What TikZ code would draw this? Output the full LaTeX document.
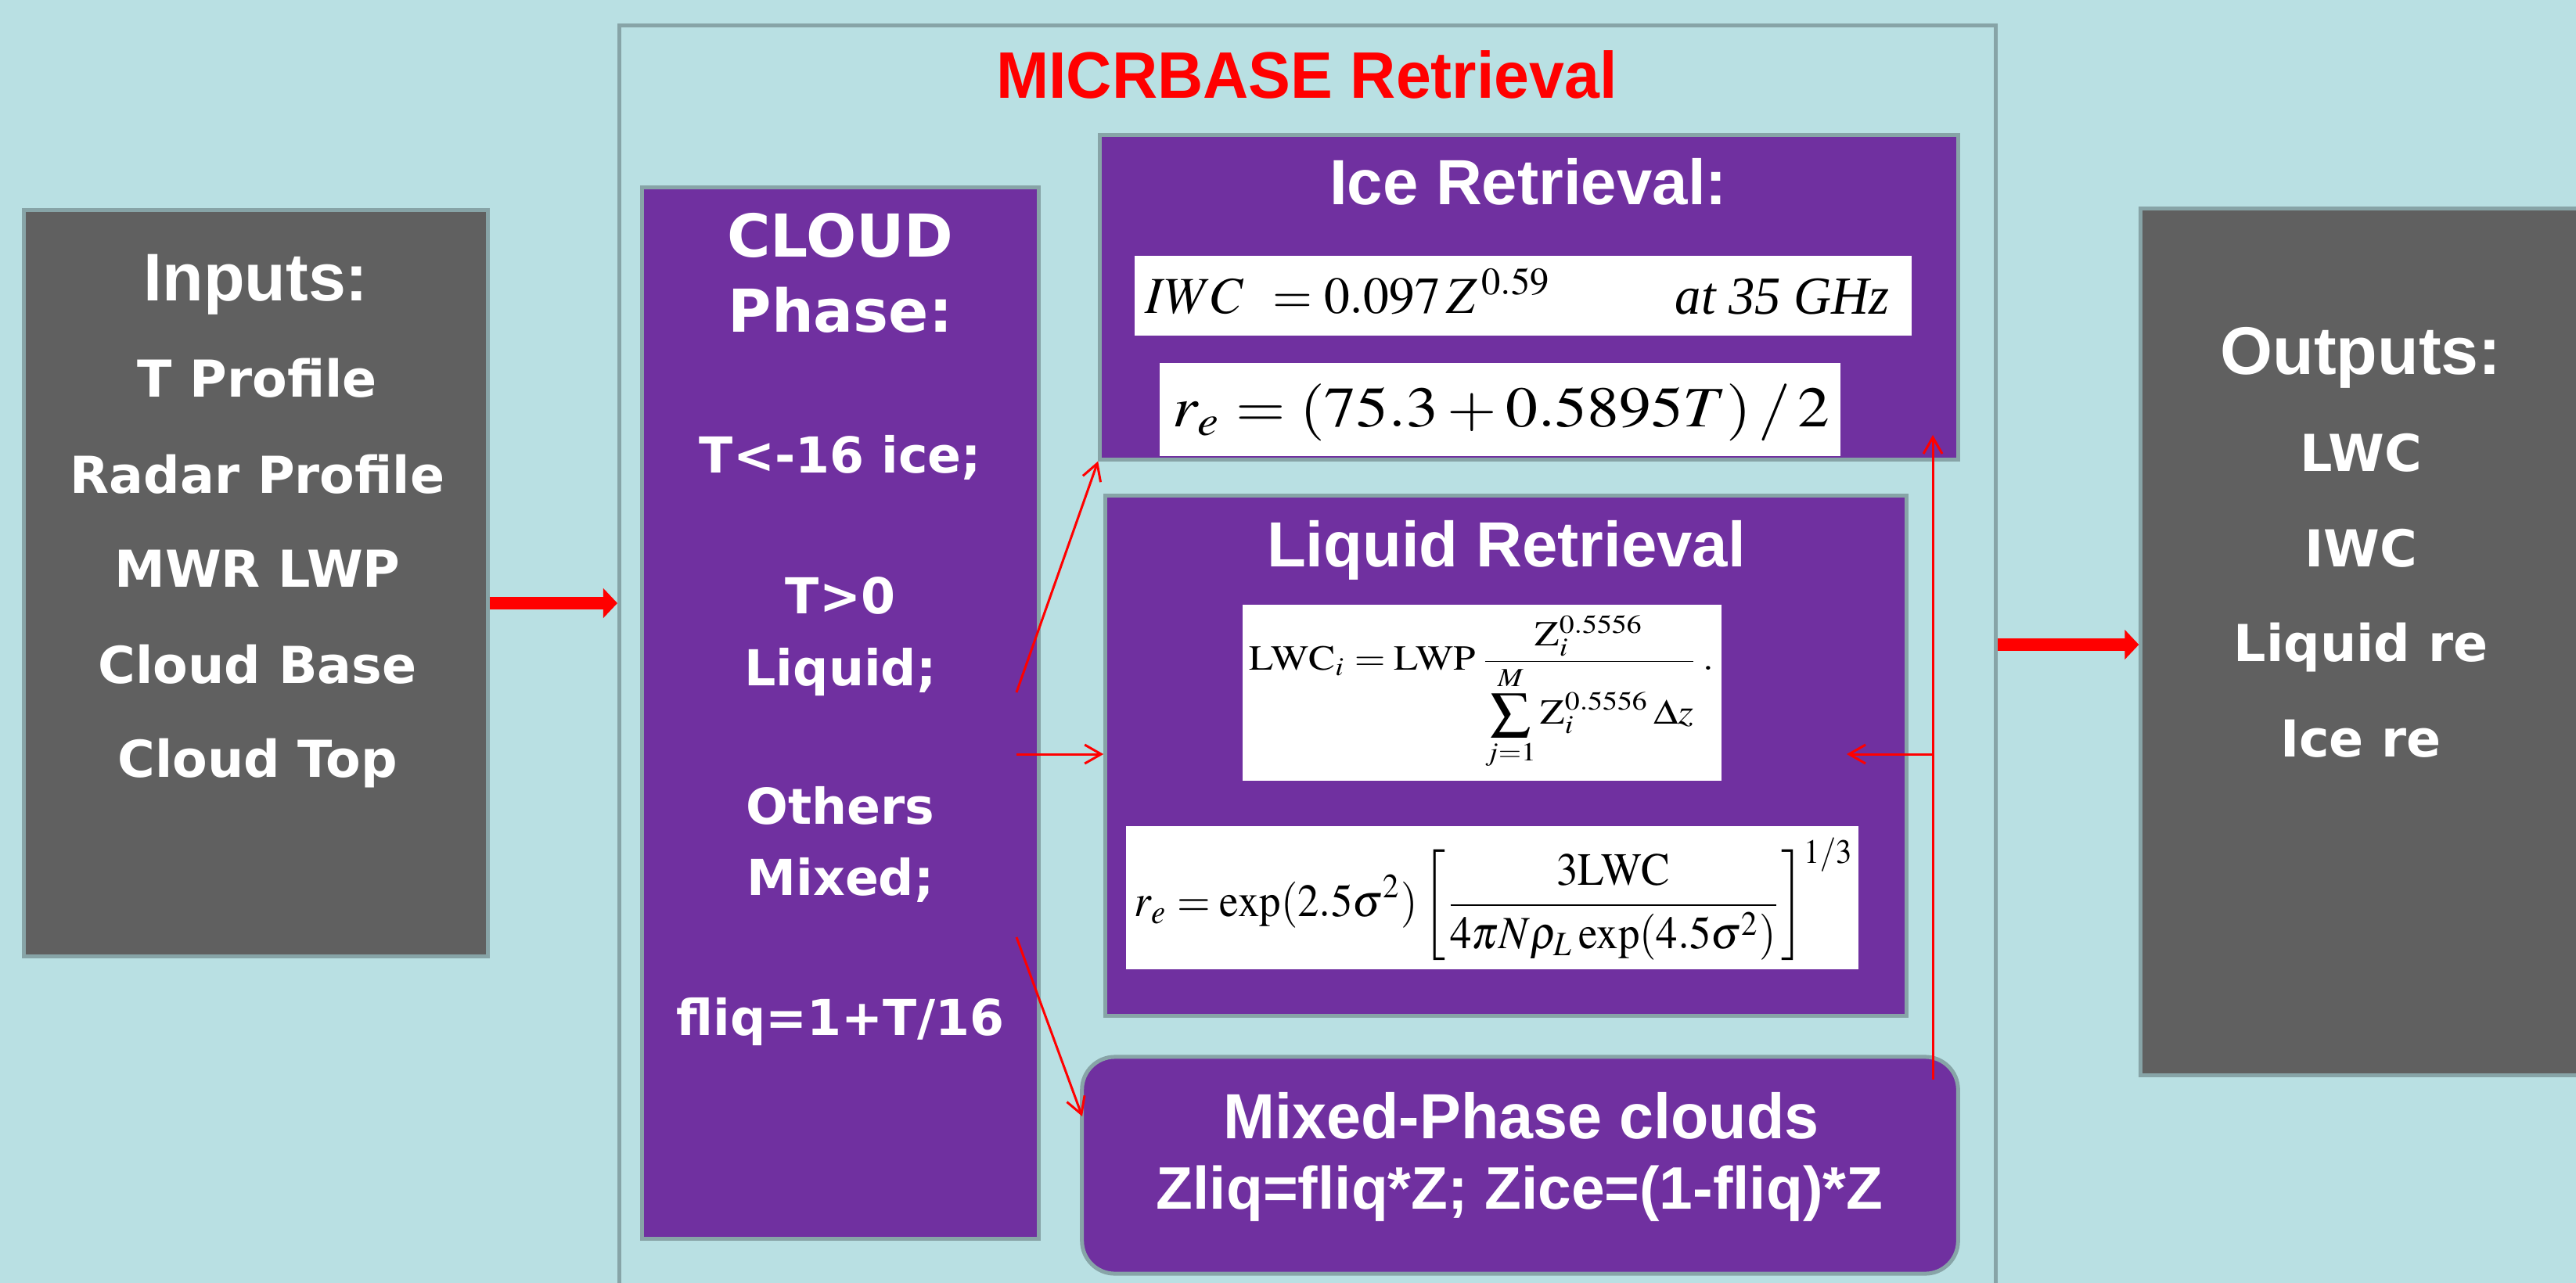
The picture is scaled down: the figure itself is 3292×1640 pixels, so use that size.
\documentclass[tikz,border=0pt]{standalone}
\usepackage{mathptmx}
\usepackage[no-math]{fontspec}
\usepackage{graphicx}
\usetikzlibrary{arrows.meta}
\newfontfamily\hfont{Liberation Sans}
\newfontfamily\hcfont{Liberation Sans}[FakeStretch=0.96]
\newfontfamily\mcfont{Liberation Sans}[FakeStretch=0.97]
\newfontfamily\vfont{DejaVu Sans}
\newfontfamily\tms{Liberation Serif}
\definecolor{bgc}{RGB}{185,224,227}
\definecolor{purp}{RGB}{112,48,160}
\definecolor{grayb}{RGB}{96,96,96}
\definecolor{bord}{RGB}{135,164,167}
\tikzset{
  box/.style={draw=bord, line width=0.05cm, inner sep=0pt},
  whitebox/.style={fill=white, inner sep=0pt},
  wt/.style={text=white, anchor=base, inner sep=0pt},
  fml/.style={anchor=north west, inner sep=0pt},
  redarr/.style={draw=red, line width=0.03cm, -{Straight Barb[length=0.21cm,width=0.24cm]}},
  bigarr/.style={draw=red, line width=0.16cm, -{Triangle[length=0.18cm,width=0.37cm]}},
  hbig/.style={font=\hfont\bfseries\fontsize{24.5}{29}\selectfont},
  vlist/.style={font=\vfont\bfseries\fontsize{18.5}{22}\selectfont},
  chead/.style={font=\vfont\bfseries\fontsize{21.5}{26}\selectfont},
  clist/.style={font=\vfont\bfseries\fontsize{18}{22}\selectfont},
  ptitle/.style={font=\hfont\bfseries\fontsize{23.2}{28}\selectfont},
}
\begin{document}
\begin{tikzpicture}[x=0.01cm,y=-0.01cm]
\useasboundingbox (0,0) rectangle (3292,1640);
\clip (0,0) rectangle (3292,1640);
\fill[bgc] (0,0) rectangle (3292,1640);

% outer retrieval frame
\node[box, minimum width=17.58cm, minimum height=17.67cm] (ret) at (1671,916.5) {};
\node[anchor=base, inner sep=0pt, text=red, font=\hcfont\bfseries\fontsize{23.9}{28}\selectfont] (retT) at (1670,126) {MICRBASE Retrieval};

% inputs
\node[box, fill=grayb, minimum width=5.92cm, minimum height=9.53cm] (inp) at (327,745.5) {};
\node[wt, hbig] (inpT) at (327,385) {Inputs:};
\foreach \t/\y [count=\i] in {T Profile/508, Radar Profile/630, MWR LWP/750, Cloud Base/873, Cloud Top/993}
  \node[wt, vlist] (inp\i) at (329,\y) {\t};

% outputs
\node[box, fill=grayb, minimum width=5.74cm, minimum height=11.07cm] (out) at (3023,820.5) {};
\node[wt, hbig] (outT) at (3017,479) {Outputs:};
\foreach \t/\y [count=\i] in {LWC/602, IWC/724, Liquid re/845, Ice re/967}
  \node[wt, vlist] (out\i) at (3017,\y) {\t};

% cloud phase
\node[box, fill=purp, minimum width=5.06cm, minimum height=13.43cm] (cloud) at (1074,911.5) {};
\node[wt, chead] (cl1) at (1074,329) {CLOUD};
\node[wt, chead] (cl2) at (1074,425) {Phase:};
\foreach \t/\y [count=\i from 3] in {T<-16 ice;/604, T>0/784, Liquid;/876, Others/1053, Mixed;/1144, {fliq=1+T/16}/1323}
  \node[wt, clist] (cl\i) at (1074,\y) {\t};

% ice retrieval
\node[box, fill=purp, minimum width=10.96cm, minimum height=4.14cm] (ice) at (1954,380) {};
\node[wt, ptitle] (iceT) at (1953,262) {Ice Retrieval:};
\node[whitebox, minimum width=9.93cm, minimum height=1.02cm] (iwcbox) at (1946.5,378) {};
\node[fml] (iwcA) at (1463,342) {\resizebox*{5.19cm}{0.59cm}{$IWC\;\,=0.097\,Z^{\,0.59}$}};
\node[fml] (iwcB) at (2140,355) {\resizebox*{2.74cm}{0.46cm}{\tms\itshape at 35 GHz}};
\node[whitebox, minimum width=8.70cm, minimum height=1.19cm] (reibox) at (1917,523.5) {};
\node[fml] (reiF) at (1498,490) {\resizebox*{8.39cm}{0.73cm}{$r_e=(75.3+0.5895T)\,/\,2$}};

% liquid retrieval
\node[box, fill=purp, minimum width=10.23cm, minimum height=6.64cm] (liq) at (1924.5,966) {};
\node[wt, ptitle] (liqT) at (1925,724) {Liquid Retrieval};
\node[whitebox, minimum width=6.12cm, minimum height=2.25cm] (lwcbox) at (1894,885.5) {};
\node[fml] (lwcF) at (1596,786) {\resizebox*{5.93cm}{1.97cm}{$\displaystyle \mathrm{LWC}_i=\mathrm{LWP}\,\frac{\mathrm{Z}_i^{0.5556}}{\displaystyle\sum_{j=1}^{M}\mathrm{Z}_i^{0.5556}\,\Delta z}\,.$}};
\node[whitebox, minimum width=9.36cm, minimum height=1.83cm] (relbox) at (1907,1147.5) {};
\node[fml] (relF) at (1449,1070) {\resizebox*{9.19cm}{1.57cm}{$\displaystyle r_e=\exp(2.5\sigma^2)\left[\frac{3\mathrm{LWC}}{4\pi N\rho_L\exp(4.5\sigma^2)}\right]^{1/3}$}};

% mixed phase
\node[box, fill=purp, rounded corners=0.42cm, minimum width=11.19cm, minimum height=2.77cm] (mix) at (1942.5,1489.5) {};
\node[wt, font=\mcfont\bfseries\fontsize{23.2}{28}\selectfont] (mixT) at (1944,1455) {Mixed-Phase clouds};
\node[wt, font=\hfont\bfseries\fontsize{21.8}{26}\selectfont] (mixF) at (1942,1545) {Zliq=fliq*Z; Zice=(1-fliq)*Z};

% connectors
\coordinate (c1) at (1299,885);
\coordinate (c2) at (1299,964);
\coordinate (c3) at (1299,1198);
\coordinate (m3) at (1383,1427);
\coordinate (fb0) at (2470,1380);
\coordinate (fb1) at (2470,556);
\coordinate (fbm) at (2470,964);
\coordinate (fbl) at (2360,964);
\draw[redarr] (c1) -- (ice.south west);
\draw[redarr] (c2) -- (c2 -| liq.west);
\draw[redarr] (c3) -- (m3);
\draw[redarr] (fb0) -- (fb1);
\draw[redarr] (fbm) -- (fbl);
\draw[bigarr] (inp.east |- 0,771) -- (ret.west |- 0,771);
\draw[bigarr] (ret.east |- 0,824) -- (out.west |- 0,824);
\end{tikzpicture}
\end{document}
